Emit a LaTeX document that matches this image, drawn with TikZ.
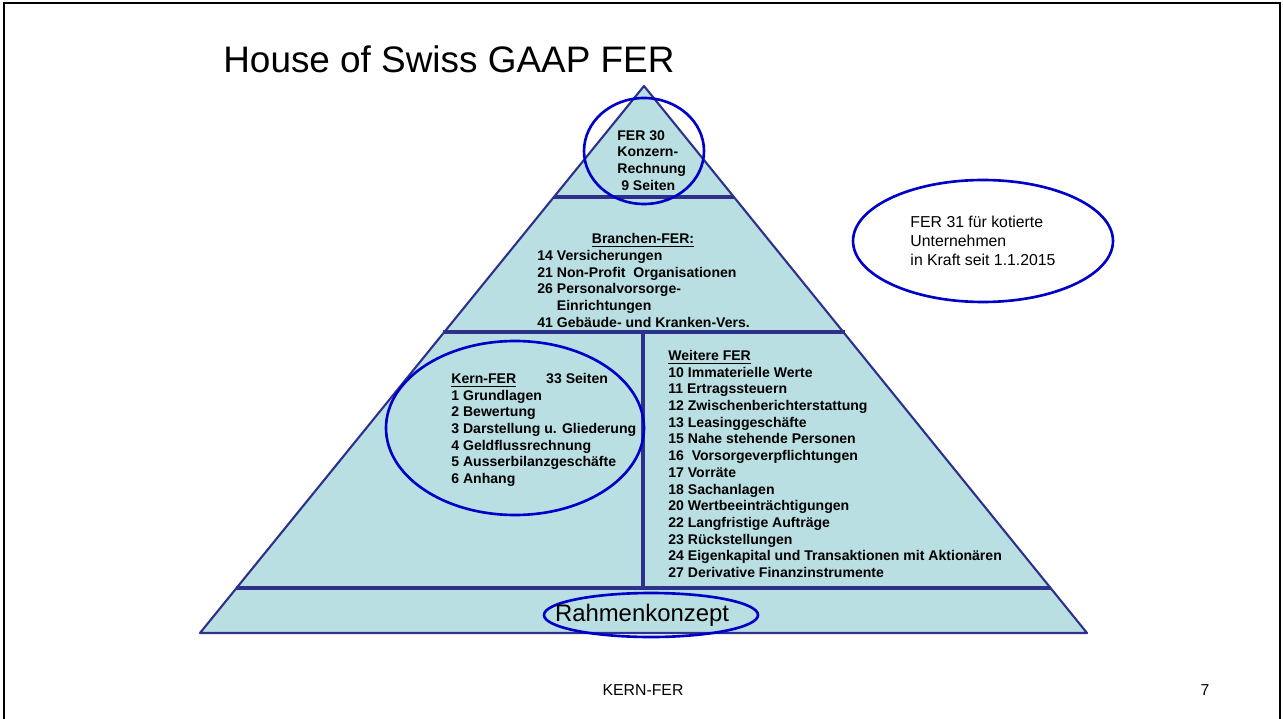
\documentclass[tikz,border=0pt]{standalone}
\usepackage{fontspec}
\setmainfont{Liberation Sans}
\usetikzlibrary{shapes.geometric,positioning}
\definecolor{pyrfill}{RGB}{185,223,227}
\definecolor{pyrline}{RGB}{46,49,140}
\definecolor{ringblue}{RGB}{0,0,200}
\tikzset{every node/.style={inner sep=0pt}}
\tikzset{bar/.style={pyrline,line width=2.3pt},
         ring/.style={ringblue,line width=1.5pt},
         list/.style={align=left,anchor=north west,font=\bfseries\fontsize{8}{9.5}\selectfont}}

\begin{document}
\begin{tikzpicture}[x=0.02cm,y=-0.02cm]
                \useasboundingbox (0,0) rectangle (1283,719);
                \draw[line width=1.1pt] (4,719) -- (4,3) -- (1280,3) -- (1280,719);
                \node[anchor=base west,font=\fontsize{21}{25}\selectfont] (title) at (223,73) {House of Swiss GAAP FER};
                % pyramid
                \coordinate (apex) at (644,86);
                \coordinate (bl) at (200,633);
                \coordinate (br) at (1087,633);
                \filldraw[fill=pyrfill,draw=pyrline,line width=1.2pt,line join=round] (apex) -- (bl) -- (br) -- cycle;
                \draw[bar] (554,197) -- (734,197);
                \draw[bar] (443,332) -- (845,332);
                \draw[bar] (236,588) -- (1051,588);
                \draw[bar] (643,332) -- (643,588);
                % rings
                \draw[ring] (644,151) ellipse [x radius=60, y radius=53];
                \draw[ring] (515,428) ellipse [x radius=129, y radius=87];
                \draw[ring] (651,615) ellipse [x radius=107, y radius=22];
                % texts
                \node[list] (konzern) at (617,130) {FER 30\\Konzern-\\Rechnung\\\ 9 Seiten};
                \node[anchor=north,font=\bfseries\fontsize{8}{9.5}\selectfont] (branchhead) at (643,233) {\underline{Branchen-FER:}};
                \node[list] (branch) at (537,250) {14 Versicherungen\\21 Non-Profit\ \ Organisationen\\26 Personalvorsorge-\\\phantom{26 }Einrichtungen\\41 Geb\"aude- und Kranken-Vers.};
                \node[list] (kern) at (451,373) {\makebox[54pt][l]{\underline{Kern-FER}}33 Seiten\\1 Grundlagen\\2 Bewertung\\3 Darstellung u. Gliederung\\4 Geldflussrechnung\\5 Ausserbilanzgesch\"afte\\6 Anhang};
                \node[list] (weitere) at (668,350) {\underline{Weitere FER}\\10 Immaterielle Werte\\11 Ertragssteuern\\12 Zwischenberichterstattung\\13 Leasinggesch\"afte\\15 Nahe stehende Personen\\16\ \ Vorsorgeverpflichtungen\\17 Vorr\"ate\\18 Sachanlagen\\20 Wertbeeintr\"achtigungen\\22 Langfristige Auftr\"age\\23 R\"uckstellungen\\24 Eigenkapital und Transaktionen mit Aktion\"aren\\27 Derivative Finanzinstrumente};
                \node[ellipse,draw,ring,text=black,minimum width=5.2cm,minimum height=2.44cm,align=left,font=\fontsize{9}{10.8}\selectfont] (fer31) at (983,241) {FER 31 f\"ur kotierte\\Unternehmen\\in Kraft seit 1.1.2015};
                \node[font=\fontsize{13.6}{16}\selectfont] (rahmen) at (642,615) {Rahmenkonzept};
                \node[font=\fontsize{9}{11}\selectfont] (footer) at (643,690) {KERN-FER};
                \node[font=\fontsize{9}{11}\selectfont] (page) at (1205,690) {7};
\end{tikzpicture}
\end{document}
